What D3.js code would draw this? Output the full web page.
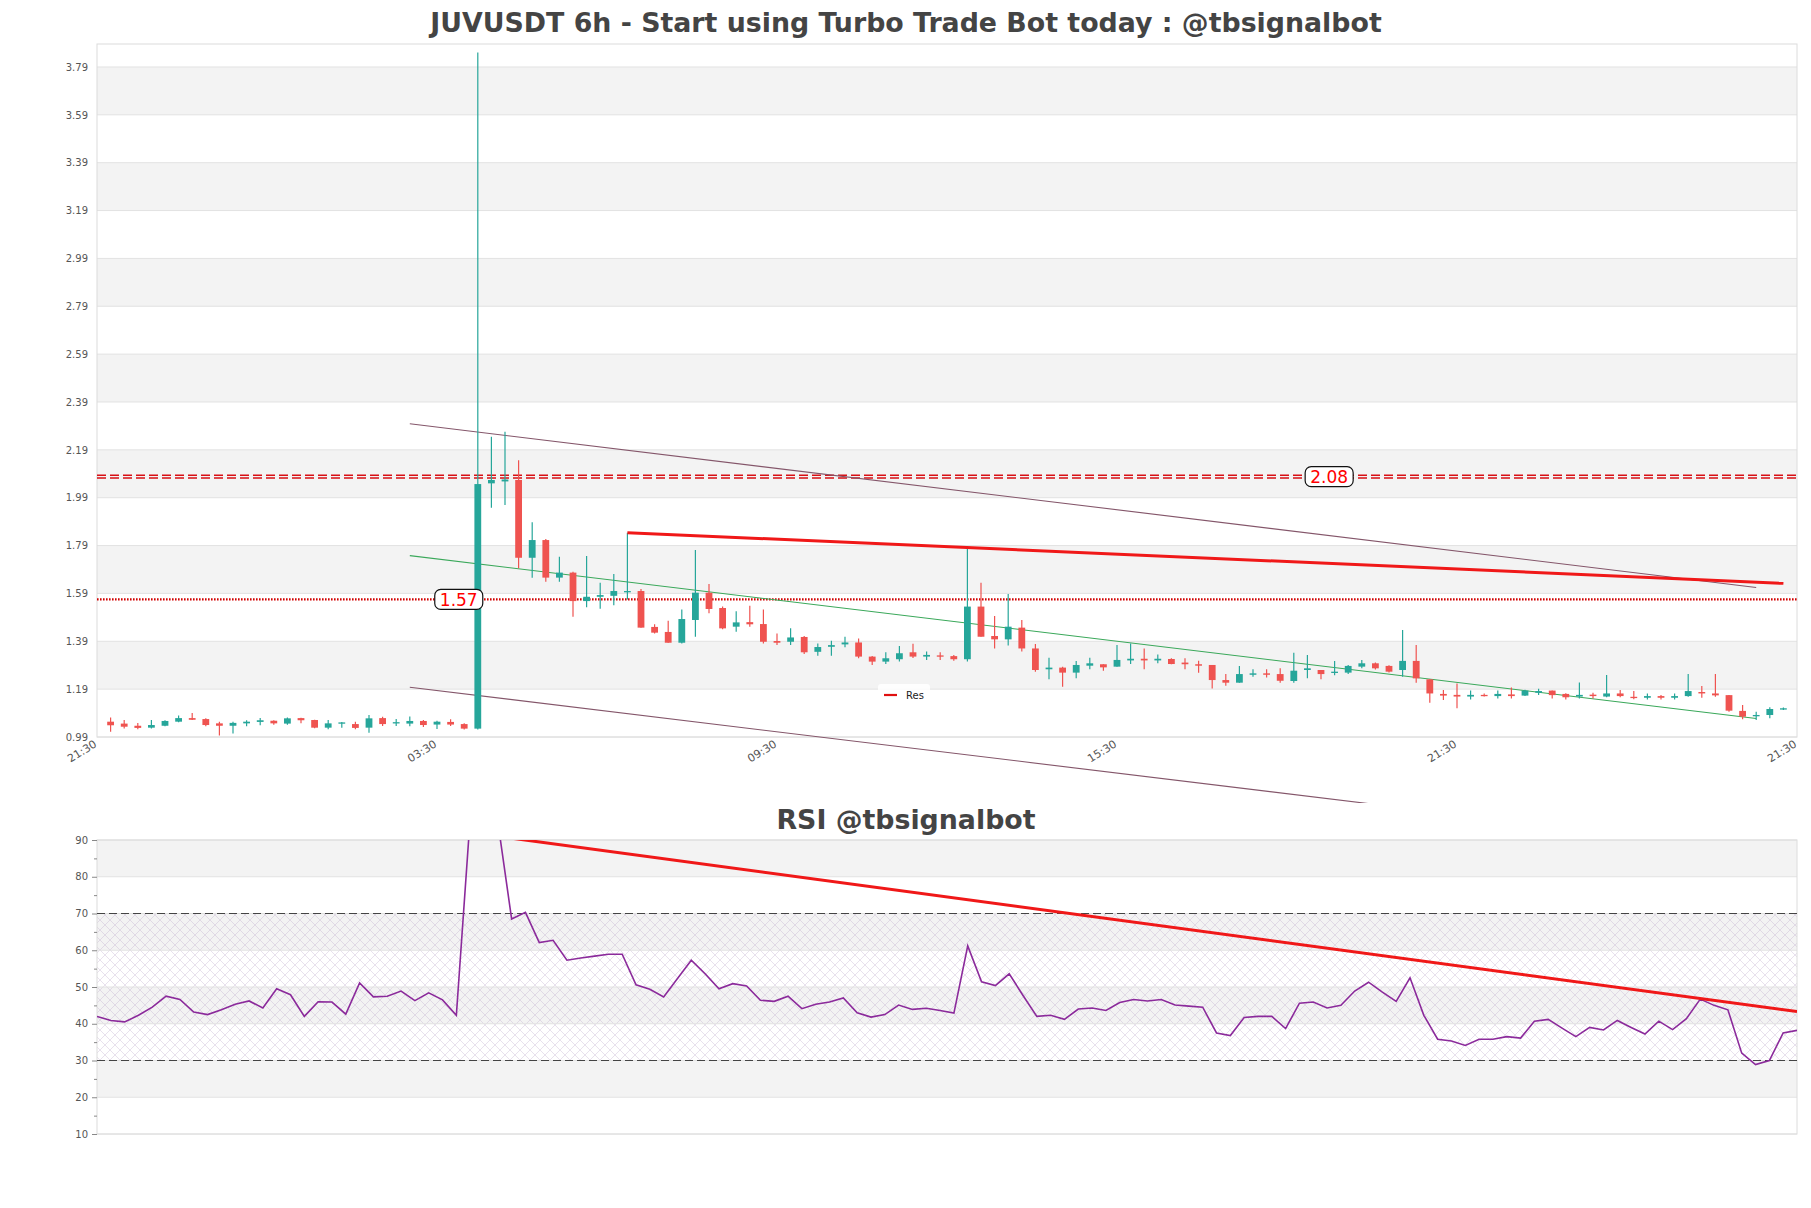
<!DOCTYPE html>
<html>
<head>
<meta charset="utf-8">
<script src="https://cdn.jsdelivr.net/npm/d3@7"></script>
<style>
  body { margin: 0; background: #fff; }
  text { font-family: "DejaVu Sans", sans-serif; }
</style>
</head>
<body>
<div id="chart"></div>
<script>
// candle data (6h)
var openV = [1.054,1.046,1.037,1.029,1.037,1.054,1.069,1.065,1.047,1.037,
  1.047,1.053,1.058,1.046,1.069,1.061,1.029,1.047,1.044,1.029,
  1.069,1.048,1.046,1.057,1.042,1.053,1.044,1.025,2.050,2.058,
  2.064,1.739,1.813,1.656,1.677,1.558,1.576,1.580,1.596,1.600,
  1.450,1.429,1.384,1.479,1.593,1.529,1.451,1.470,1.462,1.391,
  1.388,1.408,1.346,1.367,1.377,1.385,1.326,1.305,1.315,1.344,
  1.326,1.331,1.328,1.315,1.535,1.412,1.398,1.447,1.360,1.273,
  1.280,1.259,1.288,1.294,1.284,1.310,1.317,1.310,1.316,1.301,
  1.294,1.291,1.228,1.217,1.250,1.256,1.253,1.224,1.270,1.270,
  1.259,1.259,1.284,1.298,1.287,1.270,1.308,1.231,1.170,1.166,
  1.159,1.166,1.161,1.168,1.163,1.175,1.184,1.170,1.159,1.167,
  1.159,1.172,1.158,1.154,1.161,1.154,1.161,1.178,1.172,1.165,
  1.099,1.078,1.082,1.106];
var highV = [1.071,1.061,1.048,1.061,1.060,1.080,1.090,1.068,1.054,1.054,
  1.060,1.069,1.060,1.071,1.070,1.062,1.061,1.053,1.054,1.082,
  1.075,1.065,1.076,1.061,1.058,1.064,1.047,3.850,2.245,2.266,
  2.147,1.887,1.817,1.743,1.681,1.746,1.635,1.671,1.844,1.608,
  1.461,1.476,1.523,1.771,1.629,1.535,1.515,1.539,1.523,1.423,
  1.444,1.412,1.381,1.392,1.409,1.402,1.328,1.344,1.370,1.380,
  1.347,1.344,1.333,1.785,1.635,1.496,1.588,1.479,1.379,1.321,
  1.284,1.308,1.321,1.294,1.374,1.381,1.360,1.335,1.319,1.319,
  1.309,1.291,1.253,1.287,1.273,1.273,1.277,1.342,1.333,1.270,
  1.308,1.291,1.312,1.301,1.290,1.437,1.374,1.231,1.186,1.214,
  1.184,1.172,1.184,1.197,1.187,1.192,1.184,1.173,1.218,1.175,
  1.249,1.186,1.182,1.172,1.165,1.172,1.253,1.203,1.253,1.165,
  1.124,1.096,1.114,1.113];
var lowV = [1.012,1.026,1.022,1.026,1.035,1.052,1.061,1.035,0.996,1.005,
  1.035,1.039,1.041,1.041,1.047,1.027,1.022,1.029,1.022,1.008,
  1.036,1.036,1.035,1.032,1.023,1.036,1.021,1.021,1.948,1.959,
  1.695,1.656,1.639,1.639,1.493,1.532,1.526,1.541,1.565,1.447,
  1.423,1.384,1.381,1.409,1.507,1.440,1.430,1.451,1.381,1.374,
  1.374,1.337,1.330,1.330,1.365,1.319,1.291,1.295,1.305,1.320,
  1.312,1.312,1.309,1.305,1.409,1.360,1.372,1.347,1.263,1.231,
  1.200,1.235,1.273,1.267,1.284,1.295,1.273,1.298,1.294,1.273,
  1.259,1.193,1.204,1.217,1.242,1.239,1.217,1.217,1.235,1.231,
  1.248,1.253,1.277,1.272,1.260,1.242,1.217,1.133,1.145,1.110,
  1.147,1.159,1.151,1.151,1.161,1.165,1.151,1.147,1.151,1.151,
  1.156,1.156,1.148,1.147,1.147,1.147,1.158,1.154,1.158,1.096,
  1.064,1.061,1.068,1.103];
var closeV = [1.039,1.033,1.028,1.040,1.057,1.069,1.062,1.040,1.037,1.049,
  1.054,1.060,1.047,1.068,1.060,1.029,1.047,1.051,1.028,1.068,
  1.044,1.052,1.057,1.040,1.054,1.042,1.025,2.047,2.064,2.066,
  1.739,1.813,1.656,1.677,1.558,1.576,1.583,1.600,1.600,1.447,
  1.426,1.384,1.483,1.593,1.525,1.444,1.469,1.461,1.388,1.384,
  1.406,1.344,1.366,1.374,1.385,1.326,1.305,1.319,1.340,1.326,
  1.333,1.326,1.315,1.535,1.409,1.398,1.451,1.360,1.270,1.280,
  1.259,1.291,1.298,1.281,1.312,1.317,1.310,1.317,1.295,1.294,
  1.288,1.228,1.217,1.253,1.256,1.250,1.225,1.267,1.277,1.253,
  1.263,1.287,1.298,1.277,1.263,1.308,1.235,1.172,1.163,1.159,
  1.166,1.163,1.170,1.161,1.184,1.182,1.165,1.156,1.166,1.161,
  1.172,1.161,1.154,1.161,1.154,1.161,1.182,1.172,1.164,1.100,
  1.075,1.082,1.107,1.110];

var rsiV = [42.0,40.9,40.5,42.3,44.5,47.5,46.6,43.2,42.5,43.8,
  45.3,46.2,44.3,49.5,47.9,42.0,46.0,45.9,42.6,51.1,
  47.3,47.5,48.9,46.3,48.4,46.5,42.3,96.0,97.0,95.0,
  68.5,70.3,62.1,62.7,57.3,57.9,58.4,58.9,58.9,50.6,
  49.4,47.3,52.3,57.3,53.6,49.5,50.9,50.3,46.4,46.1,
  47.5,44.1,45.3,45.9,47.0,43.0,41.8,42.5,45.1,43.9,
  44.2,43.6,42.9,61.2,51.4,50.4,53.6,47.7,42.0,42.3,
  41.2,44.0,44.3,43.6,45.8,46.6,46.2,46.6,45.1,44.8,
  44.5,37.5,36.8,41.7,42.0,42.0,38.7,45.6,45.9,44.3,
  45.0,48.9,51.3,48.6,46.1,52.5,42.3,35.8,35.3,34.1,
  35.8,35.8,36.5,36.1,40.7,41.2,38.8,36.5,39.0,38.3,
  40.9,39.0,37.2,40.7,38.4,41.4,46.7,45.0,43.8,32.0,
  28.9,30.0,37.5,38.2];

var xTickIdx = [-1, 24, 49, 74, 99, 124];
var xTickLabels = ["21:30", "03:30", "09:30", "15:30", "21:30", "21:30"];
var yTicks = [0.99, 1.19, 1.39, 1.59, 1.79, 1.99, 2.19, 2.39, 2.59, 2.79, 2.99, 3.19, 3.39, 3.59, 3.79];
var rsiTicks = [10, 20, 30, 40, 50, 60, 70, 80, 90];

// levels and trend lines: [index, value]
var supportLevel = { value: 1.565, label: "1.57", at: 25.6 };
var resistLevel = { value: 2.078, label: "2.08", at: 89.6 };
var upperChannel = [[22, 2.299], [121, 1.615]];
var midChannel = [[22, 1.748], [121, 1.067]];
var lowerChannel = [[22, 1.198], [121, 0.515]];
var resLine = [[38, 1.844], [123, 1.632]];
var rsiTrend = [[28, 91.5], [123, 43.3]];

var svgWidth = 1811;
var svgHeight = 1208;

var main = { left: 97, right: 1797, top: 44, bottom: 737 };
var rsiBox = { left: 97, right: 1797, top: 840, bottom: 1134 };

var green = "#26a69a";
var red = "#ef5350";

var svg = d3.select("#chart")
  .append("svg")
  .attr("width", svgWidth)
  .attr("height", svgHeight);

var defs = svg.append("defs");

defs.append("clipPath").attr("id", "mainClip")
  .append("rect")
  .attr("x", main.left).attr("y", 0)
  .attr("width", main.right - main.left).attr("height", 803);

defs.append("clipPath").attr("id", "rsiClip")
  .append("rect")
  .attr("x", rsiBox.left).attr("y", rsiBox.top)
  .attr("width", rsiBox.right - rsiBox.left).attr("height", rsiBox.bottom - rsiBox.top);

var hatch = defs.append("pattern")
  .attr("id", "hatch")
  .attr("patternUnits", "userSpaceOnUse")
  .attr("width", 10).attr("height", 10);
hatch.append("path").attr("d", "M0,0L10,10M10,0L0,10")
  .attr("stroke", "#b9a2c8").attr("stroke-width", 0.6).attr("opacity", 0.55);

// Titles
svg.append("text")
  .attr("x", 906).attr("y", 32)
  .attr("text-anchor", "middle")
  .attr("font-size", 26.8).attr("font-weight", "bold")
  .attr("fill", "#444")
  .text("JUVUSDT 6h - Start using Turbo Trade Bot today : @tbsignalbot");

svg.append("text")
  .attr("x", 906).attr("y", 829)
  .attr("text-anchor", "middle")
  .attr("font-size", 26.8).attr("font-weight", "bold")
  .attr("fill", "#444")
  .text("RSI @tbsignalbot");

// Step 1: scales
// ==============================
var xScale = d3.scaleLinear().domain([-1, 124]).range([main.left, main.right]);
var yScale = d3.scaleLinear().domain([0.99, 3.886]).range([main.bottom, main.top]);

var xRsi = d3.scaleLinear().domain([0, 123]).range([rsiBox.left, rsiBox.right]);
var yRsi = d3.scaleLinear().domain([10, 90]).range([rsiBox.bottom, rsiBox.top]);

// Step 2: main panel background bands + grid
// ==============================
var bandPairs = [];
for (var b = 1; b < yTicks.length - 1; b += 2) bandPairs.push([yTicks[b], yTicks[b + 1]]);

svg.append("g").selectAll("rect")
  .data(bandPairs)
  .enter()
  .append("rect")
  .attr("x", main.left)
  .attr("width", main.right - main.left)
  .attr("y", d => yScale(d[1]))
  .attr("height", d => yScale(d[0]) - yScale(d[1]))
  .attr("fill", "#f3f3f3");

svg.append("g").selectAll("line")
  .data(yTicks)
  .enter()
  .append("line")
  .attr("x1", main.left).attr("x2", main.right)
  .attr("y1", d => yScale(d)).attr("y2", d => yScale(d))
  .attr("stroke", "#e2e2e2");

svg.append("rect")
  .attr("x", main.left).attr("y", main.top)
  .attr("width", main.right - main.left).attr("height", main.bottom - main.top)
  .attr("fill", "none").attr("stroke", "#dcdcdc");

// Step 3: axes
// ==============================
var leftAxis = d3.axisLeft(yScale).tickValues(yTicks).tickFormat(d3.format(".2f")).tickSize(0).tickPadding(9);
var yAxisG = svg.append("g").attr("transform", `translate(${main.left},0)`).call(leftAxis);
yAxisG.select(".domain").remove();
yAxisG.selectAll("text").attr("font-size", 10).attr("fill", "#555").attr("font-family", "DejaVu Sans");

var bottomAxis = d3.axisBottom(xScale).tickValues(xTickIdx)
  .tickFormat((d, i) => xTickLabels[i]).tickSize(0);
var xAxisG = svg.append("g").attr("transform", `translate(0,${main.bottom})`).call(bottomAxis);
xAxisG.select(".domain").remove();
xAxisG.selectAll("text")
  .attr("font-size", 11).attr("fill", "#555").attr("font-family", "DejaVu Sans")
  .attr("text-anchor", "end")
  .attr("dy", null).attr("y", 0)
  .attr("transform", "translate(0,9) rotate(-32)");

// Step 4: horizontal levels
// ==============================
var lvl = svg.append("g");
[-1.4, 1.4].forEach(function (off) {
  lvl.append("line")
    .attr("x1", main.left).attr("x2", main.right)
    .attr("y1", yScale(resistLevel.value) + off).attr("y2", yScale(resistLevel.value) + off)
    .attr("stroke", "#d80f14").attr("stroke-width", 1.6)
    .attr("stroke-dasharray", "9,4");
});
lvl.append("line")
  .attr("x1", main.left).attr("x2", main.right)
  .attr("y1", yScale(supportLevel.value)).attr("y2", yScale(supportLevel.value))
  .attr("stroke", "#d10000").attr("stroke-width", 2.4)
  .attr("stroke-dasharray", "1.6,1.4");

// Step 5: channel + res lines
// ==============================
var lineMain = d3.line().x(d => xScale(d[0])).y(d => yScale(d[1]));
var trendG = svg.append("g").attr("clip-path", "url(#mainClip)");

[upperChannel, lowerChannel].forEach(function (seg) {
  trendG.append("path").datum(seg)
    .attr("d", lineMain)
    .attr("fill", "none").attr("stroke", "#84566a").attr("stroke-width", 1.1);
});
trendG.append("path").datum(midChannel)
  .attr("d", lineMain)
  .attr("fill", "none").attr("stroke", "#3aa85a").attr("stroke-width", 1.1);

// Step 6: candles
// ==============================
var candles = d3.range(openV.length).map(i => ({
  i: i, o: openV[i], h: highV[i], l: lowV[i], c: closeV[i]
}));

var candleG = svg.append("g");
candleG.selectAll("line.wick")
  .data(candles)
  .enter()
  .append("line")
  .attr("class", "wick")
  .attr("x1", d => xScale(d.i)).attr("x2", d => xScale(d.i))
  .attr("y1", d => yScale(d.h)).attr("y2", d => yScale(d.l))
  .attr("stroke", d => d.c >= d.o ? green : red)
  .attr("stroke-width", 1.2);

candleG.selectAll("rect.body")
  .data(candles)
  .enter()
  .append("rect")
  .attr("class", "body")
  .attr("x", d => xScale(d.i) - 3.4)
  .attr("width", 6.8)
  .attr("y", d => yScale(Math.max(d.o, d.c)))
  .attr("height", d => Math.max(1.3, Math.abs(yScale(d.o) - yScale(d.c))))
  .attr("fill", d => d.c >= d.o ? green : red);

svg.append("path").datum(resLine)
  .attr("d", lineMain)
  .attr("fill", "none").attr("stroke", "#f01818").attr("stroke-width", 3);

// Step 7: level labels
// ==============================
[resistLevel, supportLevel].forEach(function (lv) {
  var g = svg.append("g")
    .attr("transform", `translate(${xScale(lv.at)},${yScale(lv.value)})`);
  g.append("rect")
    .attr("x", -24).attr("y", -10).attr("width", 48).attr("height", 20)
    .attr("rx", 6)
    .attr("fill", "#fff").attr("stroke", "#111").attr("stroke-width", 1.2);
  g.append("text")
    .attr("text-anchor", "middle").attr("dy", "0.36em")
    .attr("font-size", 17).attr("fill", "#f00")
    .text(lv.label);
});

// legend
var leg = svg.append("g").attr("transform", "translate(878,684)");
leg.append("rect").attr("width", 52).attr("height", 21).attr("rx", 3).attr("fill", "#fff").attr("opacity", 0.85);
leg.append("line").attr("x1", 6).attr("x2", 19).attr("y1", 11).attr("y2", 11)
  .attr("stroke", "#e01010").attr("stroke-width", 2.2);
leg.append("text").attr("x", 28).attr("y", 14.5).attr("font-size", 10).attr("fill", "#222").text("Res");

// Step 8: RSI panel
// ==============================
var rsiBands = [[20, 30], [40, 50], [60, 70], [80, 90]];
svg.append("g").selectAll("rect")
  .data(rsiBands)
  .enter()
  .append("rect")
  .attr("x", rsiBox.left).attr("width", rsiBox.right - rsiBox.left)
  .attr("y", d => yRsi(d[1]))
  .attr("height", d => yRsi(d[0]) - yRsi(d[1]))
  .attr("fill", "#f3f3f3");

svg.append("rect")
  .attr("x", rsiBox.left).attr("width", rsiBox.right - rsiBox.left)
  .attr("y", yRsi(70)).attr("height", yRsi(30) - yRsi(70))
  .attr("fill", "url(#hatch)");

svg.append("g").selectAll("line")
  .data(rsiTicks)
  .enter()
  .append("line")
  .attr("x1", rsiBox.left).attr("x2", rsiBox.right)
  .attr("y1", d => yRsi(d)).attr("y2", d => yRsi(d))
  .attr("stroke", "#e2e2e2");

svg.append("rect")
  .attr("x", rsiBox.left).attr("y", rsiBox.top)
  .attr("width", rsiBox.right - rsiBox.left).attr("height", rsiBox.bottom - rsiBox.top)
  .attr("fill", "none").attr("stroke", "#dcdcdc");

[30, 70].forEach(function (v) {
  svg.append("line")
    .attr("x1", rsiBox.left).attr("x2", rsiBox.right)
    .attr("y1", yRsi(v)).attr("y2", yRsi(v))
    .attr("stroke", "#444").attr("stroke-width", 1.1)
    .attr("stroke-dasharray", "8,4");
});

var rsiAxis = d3.axisLeft(yRsi).tickValues(rsiTicks).tickSize(5).tickPadding(4);
var rsiAxisG = svg.append("g").attr("transform", `translate(${rsiBox.left},0)`).call(rsiAxis);
rsiAxisG.select(".domain").remove();
rsiAxisG.selectAll("line").attr("stroke", "#888");
rsiAxisG.selectAll("text").attr("font-size", 10).attr("fill", "#555").attr("font-family", "DejaVu Sans");

var minorAxis = d3.axisLeft(yRsi).tickValues(d3.range(15, 90, 10)).tickSize(3).tickFormat("");
var minorG = svg.append("g").attr("transform", `translate(${rsiBox.left},0)`).call(minorAxis);
minorG.select(".domain").remove();
minorG.selectAll("line").attr("stroke", "#888");

var rsiG = svg.append("g").attr("clip-path", "url(#rsiClip)");
rsiG.append("path")
  .datum(rsiV)
  .attr("d", d3.line().x((d, i) => xRsi(i)).y(d => yRsi(d)))
  .attr("fill", "none").attr("stroke", "#8b2a9b").attr("stroke-width", 1.6);

rsiG.append("path")
  .datum(rsiTrend)
  .attr("d", d3.line().x(d => xRsi(d[0])).y(d => yRsi(d[1])))
  .attr("fill", "none").attr("stroke", "#f01818").attr("stroke-width", 3);
</script>
</body>
</html>
